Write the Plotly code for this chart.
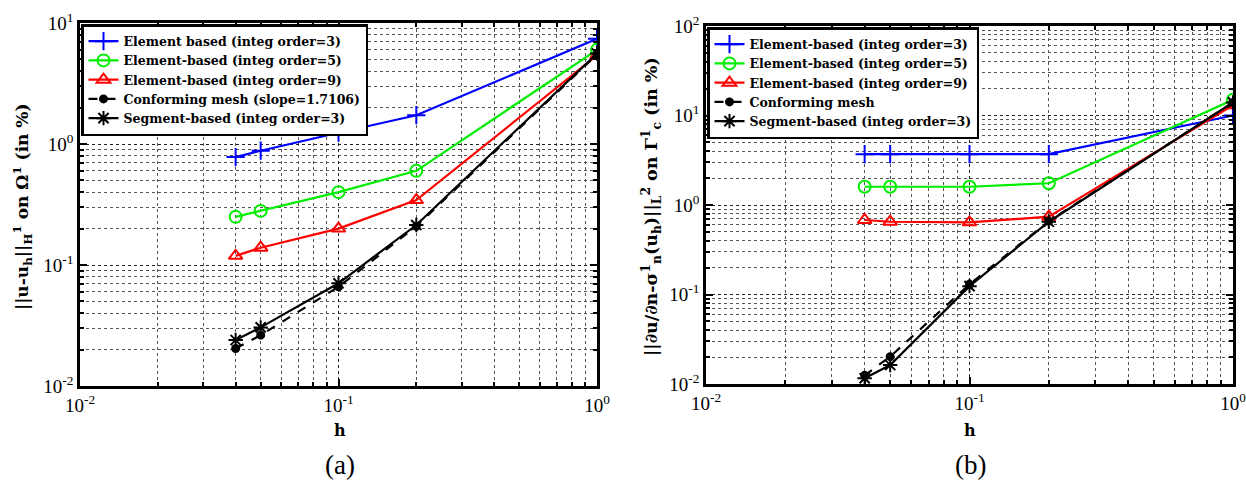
import plotly.graph_objects as go

# ---------------- data ----------------
h = [0.04, 0.05, 0.1, 0.2, 1.0]

# (a) H1 error on Omega^1 (in %)
elem3_a = [0.78, 0.88, 1.24, 1.73, 7.4]
elem5_a = [0.25, 0.28, 0.40, 0.60, 6.0]
elem9_a = [0.119, 0.139, 0.20, 0.344, 5.4]
conf_a = [0.0204, 0.0263, 0.066, 0.209, 5.5]
seg_a = [0.024, 0.0305, 0.0706, 0.214, 5.6]

# (b) L2 error of normal flux on Gamma_c^1 (in %)
elem3_b = [3.7, 3.7, 3.7, 3.7, 10.0]
elem5_b = [1.6, 1.6, 1.6, 1.75, 15.0]
elem9_b = [0.68, 0.65, 0.64, 0.74, 13.0]
conf_b = [0.0125, 0.0202, 0.13, 0.66, 14.0]
seg_b = [0.0116, 0.0163, 0.124, 0.65, 14.0]

names_a = ["Element based (integ order=3)", "Element-based (integ order=5)",
           "Element-based (integ order=9)", "Conforming mesh (slope=1.7106)",
           "Segment-based (integ order=3)"]
names_b = ["Element-based (integ order=3)", "Element-based (integ order=5)",
           "Element-based (integ order=9)", "Conforming mesh",
           "Segment-based (integ order=3)"]

xtick_vals = [0.01, 0.1, 1]
xtick_text = ["10<sup>-2</sup>", "10<sup>-1</sup>", "10<sup>0</sup>"]
ytick_vals_a = [0.01, 0.1, 1, 10]
ytick_text_a = ["10<sup>-2</sup>", "10<sup>-1</sup>", "10<sup>0</sup>", "10<sup>1</sup>"]
ytick_vals_b = [0.01, 0.1, 1, 10, 100]
ytick_text_b = ["10<sup>-2</sup>", "10<sup>-1</sup>", "10<sup>0</sup>", "10<sup>1</sup>", "10<sup>2</sup>"]

xtitle = "<b>h</b>"
ytitle_a = "<b>||u-u<sub>h</sub>||<sub>H</sub><sup>1</sup> on Ω<sup>1</sup> (in %)</b>"
ytitle_b = "<b>||∂u/∂n-σ<sup>1</sup><sub>n</sub>(u<sub>h</sub>)||<sub>L</sub><sup>2</sup> on Γ<sup>1</sup><sub>c</sub> (in %)</b>"

# ---------------- styles ----------------
styles = [
    dict(color="#0000ff", symbol="cross-thin-open", size=13, dash="solid"),
    dict(color="#00ee00", symbol="circle-open", size=12, dash="solid"),
    dict(color="#ff0000", symbol="triangle-up-open", size=12, dash="solid"),
    dict(color="#000000", symbol="circle", size=7, dash="dash"),
    dict(color="#000000", symbol="asterisk-open", size=12, dash="solid"),
]

fig = go.Figure()

def add_series(ys, names, xa, ya, legend):
    for y, name, st in zip(ys, names, styles):
        fig.add_trace(go.Scatter(
            x=h, y=y, name=name, mode="lines+markers",
            xaxis=xa, yaxis=ya, legend=legend,
            line=dict(color=st["color"], width=2.2, dash=st["dash"]),
            marker=dict(symbol=st["symbol"], size=st["size"], color=st["color"],
                        line=dict(color=st["color"], width=2)),
        ))

add_series([elem3_a, elem5_a, elem9_a, conf_a, seg_a], names_a, "x", "y", "legend")
add_series([elem3_b, elem5_b, elem9_b, conf_b, seg_b], names_b, "x2", "y2", "legend2")

W, H = 1246, 485
FONT = "Liberation Serif"
LFONT = "DejaVu Serif"

def axis_common(tickvals, ticktext, rng):
    return dict(
        type="log", range=rng, tickvals=tickvals, ticktext=ticktext,
        automargin=False, ticklabeloverflow="allow",
        showline=True, linecolor="black", linewidth=2.5, mirror="allticks",
        ticks="inside", ticklen=7, tickwidth=1.5, tickcolor="black",
        showgrid=True, gridcolor="#222222", griddash="dot", gridwidth=1,
        zeroline=False,
        tickfont=dict(family=FONT, size=19, color="black"),
        minor=dict(ticks="inside", ticklen=4, tickcolor="black",
                   showgrid=True, gridcolor="#555555", griddash="dot", gridwidth=1,
                   dtick="D1"),
    )

xa = axis_common(xtick_vals, xtick_text, [-2, 0])
xa.update(domain=[80 / W, 597 / W], anchor="y")
ya = axis_common(ytick_vals_a, ytick_text_a, [-2, 1])
ya.update(domain=[1 - 386 / H, 1 - 23 / H], anchor="x")

xb = axis_common(xtick_vals, xtick_text, [-2, 0])
xb.update(domain=[706 / W, 1233 / W], anchor="y2")
yb = axis_common(ytick_vals_b, ytick_text_b, [-2, 2])
yb.update(domain=[1 - 384 / H, 1 - 26 / H], anchor="x2")

legend_style = dict(
    bgcolor="white", bordercolor="black", borderwidth=2.5,
    font=dict(family=LFONT, size=12.5, color="black", weight="bold"),
    xanchor="left", yanchor="top", tracegroupgap=0, itemwidth=30,
)

def ann(text, x, y, size, family=LFONT, angle=0):
    return dict(text=text, x=x / W, y=1 - y / H, xref="paper", yref="paper",
                textangle=angle, showarrow=False, xanchor="center", yanchor="middle",
                font=dict(family=family, size=size, color="black"))

fig.update_layout(
    width=W, height=H,
    margin=dict(l=0, r=0, t=0, b=0),
    paper_bgcolor="white", plot_bgcolor="white",
    xaxis=xa, yaxis=ya, xaxis2=xb, yaxis2=yb,
    legend=dict(x=81 / W, y=1 - 24 / H, **legend_style),
    legend2=dict(x=707 / W, y=1 - 27 / H, **legend_style),
    annotations=[
        ann(ytitle_a, 22, 207, 17, angle=-90),
        ann(ytitle_b, 651, 207, 17.5, angle=-90),
        ann(xtitle, 340, 430, 16),
        ann(xtitle, 970, 430, 16),
        ann("(a)", 340, 465, 27, family=FONT),
        ann("(b)", 970, 465, 27, family=FONT),
    ],
)

fig.write_html("out.html",
               config={"displayModeBar": False},
               post_script="document.body.style.margin='0';document.body.style.overflow='hidden';")
